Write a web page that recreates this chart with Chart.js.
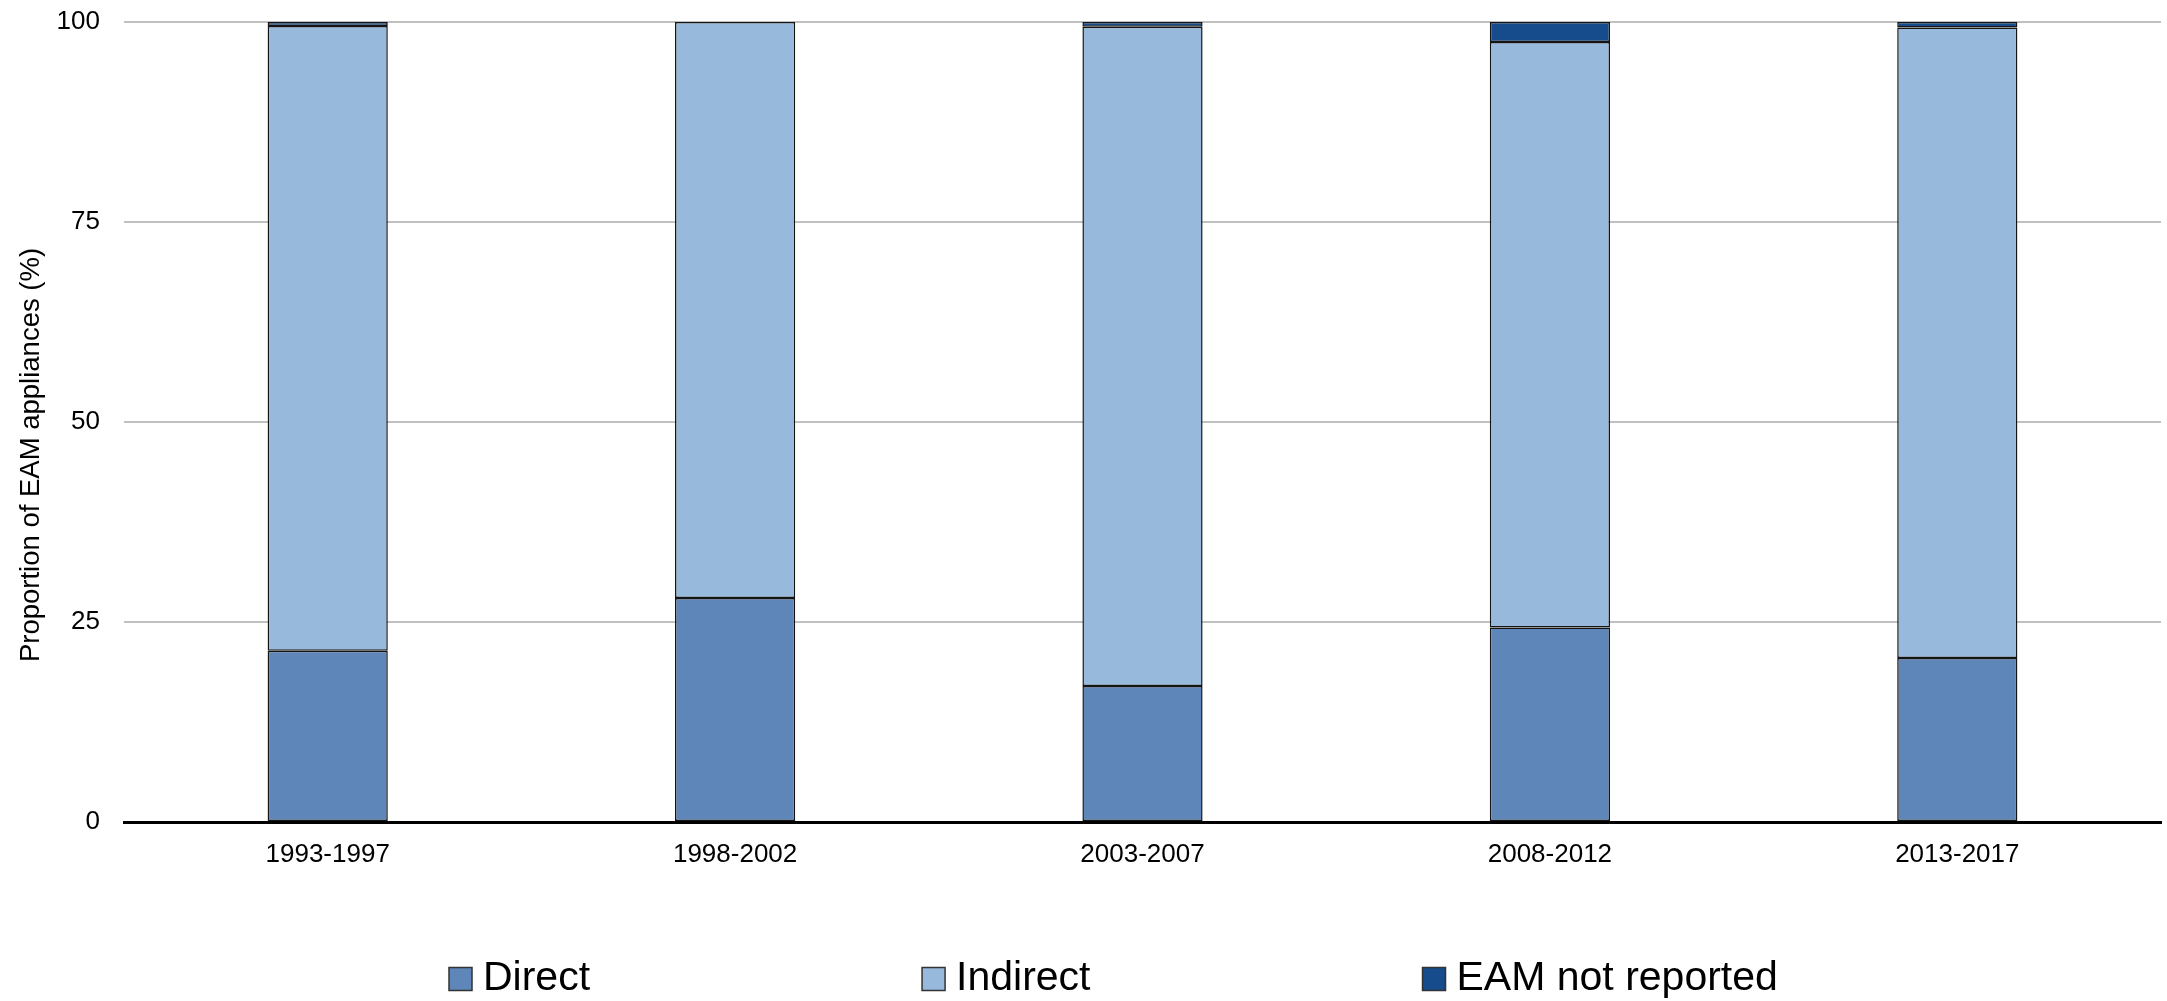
<!DOCTYPE html>
<html>
<head>
<meta charset="utf-8">
<script src="https://cdn.jsdelivr.net/npm/chart.js@4"></script>
<style>
  html, body { margin: 0; padding: 0; background: #ffffff; }
  #wrap { width: 2167px; height: 1001px; }
</style>
</head>
<body>
<div id="wrap"><canvas id="c" width="2167" height="1001"></canvas></div>
<script>
// Periods on the x axis
const periods = ['1993-1997', '1998-2002', '2003-2007', '2008-2012', '2013-2017'];
// Share of EAM appliances per period (%)
const direct      = [21.4, 28.0, 17.0, 24.3, 20.5];
const indirect    = [78.1, 72.0, 82.4, 73.2, 78.8];
const notReported = [0.5, 0.0, 0.6, 2.5, 0.7];
// Y axis ticks
const yTicks = [0, 25, 50, 75, 100];

const seriesNames = ['Direct', 'Indirect', 'EAM not reported'];
const seriesColors = ['#5e86b8', '#97b9db', '#164b8c'];
const yTitle = 'Proportion of EAM appliances (%)';

const FONT = '"Liberation Sans", Arial, sans-serif';

// Legend drawn below the plot with wide spacing between entries
const legendPlugin = {
  id: 'wideLegend',
  afterDraw(chart) {
    const ctx = chart.ctx;
    ctx.save();
    ctx.font = '41px ' + FONT;
    ctx.textBaseline = 'middle';
    ctx.textAlign = 'left';
    let x = 449;
    const cy = 979;
    const box = 23, gapText = 11, gapItem = 332;
    chart.data.datasets.forEach(ds => {
      ctx.fillStyle = ds.backgroundColor;
      ctx.fillRect(x, cy - box / 2, box, box);
      ctx.strokeStyle = '#333333';
      ctx.lineWidth = 1.5;
      ctx.strokeRect(x, cy - box / 2, box, box);
      ctx.fillStyle = '#000000';
      ctx.fillText(ds.label, x + box + gapText, cy);
      x += box + gapText + ctx.measureText(ds.label).width + gapItem;
    });
    ctx.restore();
  }
};

// Rotated y axis title
const yTitlePlugin = {
  id: 'yTitle',
  afterDraw(chart) {
    const ctx = chart.ctx;
    ctx.save();
    ctx.font = '27.5px ' + FONT;
    ctx.fillStyle = '#000000';
    ctx.textAlign = 'center';
    ctx.textBaseline = 'middle';
    ctx.translate(31, 455);
    ctx.rotate(-Math.PI / 2);
    ctx.fillText(yTitle, 0, 0);
    ctx.restore();
  }
};

const values = [direct, indirect, notReported];
const datasets = values.map((v, i) => ({
  label: seriesNames[i],
  data: v,
  backgroundColor: seriesColors[i],
  borderColor: '#141414',
  borderWidth: 1.5,
  borderSkipped: false,
  categoryPercentage: 1.0,
  barPercentage: 0.295
}));

new Chart(document.getElementById('c'), {
  type: 'bar',
  data: { labels: periods, datasets },
  options: {
    responsive: false,
    animation: false,
    devicePixelRatio: 1,
    layout: { padding: { top: 22, left: 0, right: 6, bottom: 0 } },
    plugins: {
      legend: { display: false },
      tooltip: { enabled: false }
    },
    scales: {
      x: {
        stacked: true,
        grid: { display: false, drawTicks: false },
        border: { display: true, color: '#000000', width: 3 },
        ticks: {
          color: '#000000',
          font: { family: FONT, size: 26 },
          padding: 17,
          maxRotation: 0
        },
        afterFit(scale) { scale.height = 179; }
      },
      y: {
        stacked: true,
        min: 0,
        max: 100,
        grid: { color: '#c0c0c0', lineWidth: 2, drawTicks: false },
        border: { display: false },
        afterBuildTicks(scale) { scale.ticks = yTicks.map(v => ({ value: v })); },
        ticks: {
          color: '#000000',
          font: { family: FONT, size: 26 },
          padding: 24
        },
        afterFit(scale) {
          scale.width = 124;
          scale.paddingTop = 0;
          scale.paddingBottom = 0;
        }
      }
    }
  },
  plugins: [legendPlugin, yTitlePlugin]
});
</script>
</body>
</html>
